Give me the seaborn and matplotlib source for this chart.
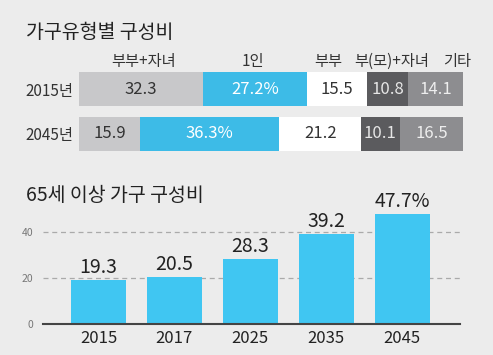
import seaborn as sns
import pandas as pd
import matplotlib.pyplot as plt
import numpy as np

# 가구유형별 구성비 (%)
types = ["부부+자녀", "1인", "부부", "부(모)+자녀", "기타"]
years_top = ["2015년", "2045년"]
share_2015 = [32.3, 27.2, 15.5, 10.8, 14.1]
share_2045 = [15.9, 36.3, 21.2, 10.1, 16.5]
value_labels_2015 = ["32.3", "27.2%", "15.5", "10.8", "14.1"]
value_labels_2045 = ["15.9", "36.3%", "21.2", "10.1", "16.5"]

# 65세 이상 가구 구성비 (%)
years_bottom = ["2015", "2017", "2025", "2035", "2045"]
elderly_share = [19.3, 20.5, 28.3, 39.2, 47.7]
elderly_labels = ["19.3", "20.5", "28.3", "39.2", "47.7%"]

bg = "#ececec"
seg_colors = ["#c8c8ca", "#3dbbe7", "#ffffff", "#5b5b5e", "#8d8d90"]
seg_text = ["#333333", "#ffffff", "#333333", "#e6e6e6", "#eeeeee"]

sns.set_theme(style="white")
plt.rcParams["font.family"] = ["Noto Sans CJK KR", "DejaVu Sans"]

fig = plt.figure(figsize=(4.93, 3.55), dpi=100, facecolor=bg)

# 상단 제목
fig.text(26 / 493, 1 - 33 / 355, "가구유형별 구성비", fontsize=14, color="#222222",
         va="center", ha="left")

# 상단: 누적 가로 막대
ax1 = fig.add_axes([79 / 493, (355 - 151) / 355, 384 / 493, 79 / 355])
ax1.set_facecolor(bg)
rows = [share_2015, share_2045]
row_labels = [value_labels_2015, value_labels_2045]
for i, (vals, labs) in enumerate(zip(rows, row_labels)):
    left = 0
    for j, v in enumerate(vals):
        ax1.barh(i, v, left=left, height=0.756, color=seg_colors[j], edgecolor="none")
        ax1.text(left + v / 2, i, labs[j], ha="center", va="center",
                 fontsize=12, color=seg_text[j])
        left += v
ax1.set_xlim(0, 100)
ax1.set_ylim(1.378, -0.378)
ax1.set_yticks([0, 1])
ax1.set_yticklabels(years_top, fontsize=11, color="#333333")
ax1.tick_params(axis="y", length=0, pad=4)
ax1.set_xticks([])
for s in ax1.spines.values():
    s.set_visible(False)

# 유형 이름 (2015년 막대 위)
type_x = [16.7, 45.3, 64.8, 81.5, 98.4]
for t, x in zip(types, type_x):
    ax1.text(x, -0.62, t, ha="center", va="center", fontsize=11, color="#333333")

# 하단 제목
fig.text(26 / 493, 1 - 195 / 355, "65세 이상 가구 구성비", fontsize=14, color="#222222",
         va="center", ha="left")

# 하단: 세로 막대
ax2 = fig.add_axes([43 / 493, 31 / 355, 417 / 493, 119.6 / 355])
ax2.set_facecolor(bg)
df = pd.DataFrame({"year": years_bottom, "share": elderly_share})
sns.barplot(data=df, x="year", y="share", color="#40c6f2", width=0.72,
            saturation=1, linewidth=0, edgecolor="none", ax=ax2, zorder=2)
for i, (v, lab) in enumerate(zip(elderly_share, elderly_labels)):
    ax2.text(i, v + 0.8, lab, ha="center", va="bottom", fontsize=14, color="#222222")
ax2.set_xlim(-0.73, 4.76)
ax2.set_ylim(0, 52)
ax2.set_yticks([0, 20, 40])
ax2.set_yticklabels(["0", "20", "40"], fontsize=7.5, color="#777777")
for y in [20, 40]:
    ax2.axhline(y, color="#aaaaaa", lw=0.9, ls=(0, (4, 3)), zorder=1)
ax2.set_xlabel("")
ax2.set_ylabel("")
ax2.tick_params(axis="x", length=0, labelsize=12, labelcolor="#222222", pad=4)
ax2.tick_params(axis="y", length=0, pad=7)
for s in ["top", "right", "left"]:
    ax2.spines[s].set_visible(False)
ax2.spines["bottom"].set_color("#444444")
ax2.spines["bottom"].set_linewidth(1.5)

fig.savefig("out.png", dpi=100, facecolor=bg)
